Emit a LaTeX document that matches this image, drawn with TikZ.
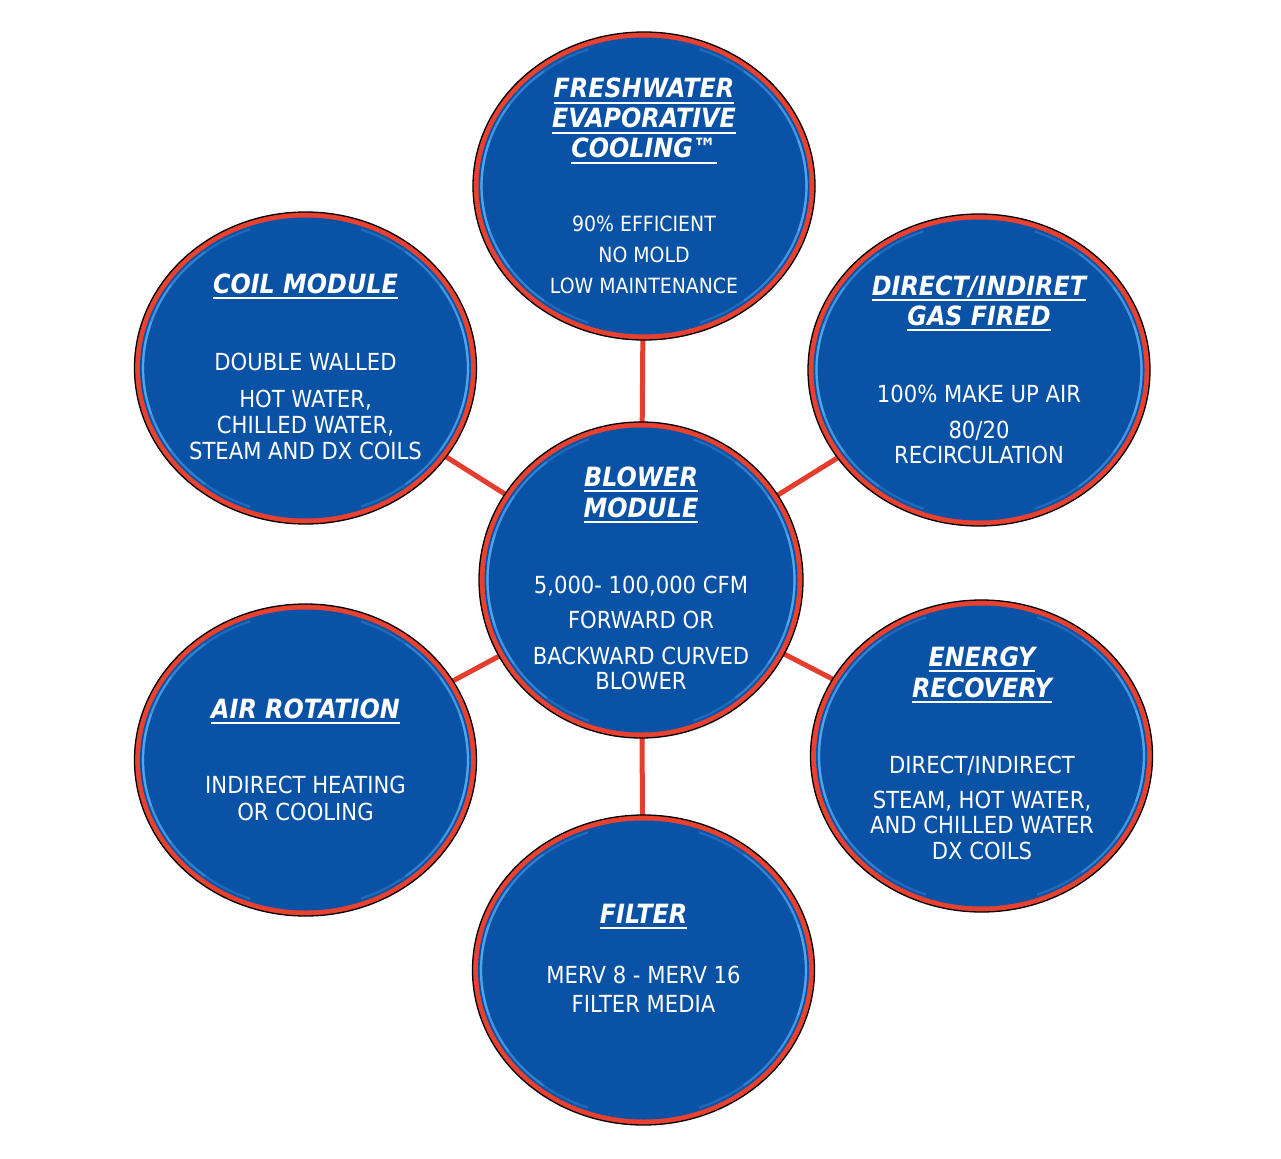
\documentclass[tikz,border=0pt]{standalone}
\usepackage{fontspec}
\newfontfamily\dvs{DejaVu Sans}[FakeStretch=0.9]
\usetikzlibrary{shapes.geometric}
\pgfdeclarelayer{bg}
\pgfsetlayers{bg,main}
\definecolor{bblue}{HTML}{0A52A5}
\definecolor{ringred}{HTML}{E8412F}
\definecolor{hlblue}{HTML}{5CB8FF}
\definecolor{linkred}{HTML}{E53D2E}
\newsavebox\ulbox
\newcommand\hul[1]{\sbox\ulbox{#1}\rlap{\vrule width\wd\ulbox height -3.8pt depth 5.8pt}\usebox\ulbox}
\tikzset{
  ring/.style={ellipse, draw=black, line width=1.3pt, fill=ringred, inner sep=0pt, outer sep=0pt},
  hl/.style={draw=hlblue, line width=2.2pt, line cap=butt},
  conn/.style={draw=linkred, line width=5pt},
  txt/.style={text=white, anchor=base, inner sep=0pt},
  hdr/.style={txt, font=\dvs\bfseries\itshape\fontsize{26.5}{30}\selectfont},
  body/.style={txt, font=\dvs\fontsize{23.5}{27}\selectfont},
  bodys/.style={txt, font=\dvs\fontsize{21}{25}\selectfont},
}
\newcommand\bubble[5]{%
  \node[ring, minimum width={2*#4}, minimum height={2*#5}] (#1) at (#2,#3) {};
  \pgfmathsetmacro\irx{#4-5.5}\pgfmathsetmacro\iry{#5-5.5}
  \fill[bblue] (#1.center) ellipse[x radius=\irx, y radius=\iry];
  \pgfmathsetmacro\hrx{#4-8.5}\pgfmathsetmacro\hry{#5-8.5}
  \foreach \s/\o in {70/0.25,52/0.3,34/0.38,18/0.45}{
    \draw[hl, draw opacity=\o, shift={(#2,#3)}] plot[domain={180-\s}:{180+\s}, samples=40, smooth] ({\hrx*cos(\x)},{\hry*sin(\x)});
    \draw[hl, draw opacity=\o, shift={(#2,#3)}] plot[domain={-\s}:{\s}, samples=40, smooth] ({\hrx*cos(\x)},{\hry*sin(\x)});
  }
}
\begin{document}
\begin{tikzpicture}[x=1pt,y=-1pt]
\useasboundingbox (0,0) rectangle (1281,1158);

\bubble{fresh}{644}{186}{171}{154}
\bubble{coil}{305.5}{368}{171}{156}
\bubble{gas}{979}{370}{171}{156}
\bubble{blower}{641}{580}{162}{158}
\bubble{air}{305.5}{760}{171}{156}
\bubble{energy}{981.5}{756}{171}{156}
\bubble{filter}{643.5}{970}{171}{155}

% Freshwater
\node[hdr] (freshH1) at (644,98) {\hul{FRESHWATER}};
\node[hdr] (freshH2) at (644,128) {\hul{EVAPORATIVE}};
\node[hdr] (freshH3) at (644,158) {\hul{COOLING™}};
\node[bodys] (freshB1) at (644,232) {90\% EFFICIENT};
\node[bodys] (freshB2) at (644,262) {NO MOLD};
\node[bodys] (freshB3) at (644,293) {LOW MAINTENANCE};

% Coil module
\node[hdr] (coilH1) at (305.5,293) {\hul{COIL MODULE}};
\node[body] (coilB1) at (305.5,370) {DOUBLE WALLED};
\node[body] (coilB2) at (305.5,407) {HOT WATER,};
\node[body] (coilB3) at (305.5,433) {CHILLED WATER,};
\node[body] (coilB4) at (305.5,459) {STEAM AND DX COILS};

% Gas fired
\node[hdr] (gasH1) at (979,295) {\hul{DIRECT/INDIRET}};
\node[hdr] (gasH2) at (979,325) {\hul{GAS FIRED}};
\node[body] (gasB1) at (979,402) {100\% MAKE UP AIR};
\node[body] (gasB2) at (979,438) {80/20};
\node[body] (gasB3) at (979,463) {RECIRCULATION};

% Blower
\node[hdr] (blowerH1) at (641,486) {\hul{BLOWER}};
\node[hdr] (blowerH2) at (641,517) {\hul{MODULE}};
\node[body] (blowerB1) at (641,593) {5,000- 100,000 CFM};
\node[body] (blowerB2) at (641,628) {FORWARD OR};
\node[body] (blowerB3) at (641,664) {BACKWARD CURVED};
\node[body] (blowerB4) at (641,689) {BLOWER};

% Air rotation
\node[hdr] (airH1) at (305.5,718) {\hul{AIR ROTATION}};
\node[body] (airB1) at (305.5,793) {INDIRECT HEATING};
\node[body] (airB2) at (305.5,820) {OR COOLING};

% Energy recovery
\node[hdr] (energyH1) at (982,666) {\hul{ENERGY}};
\node[hdr] (energyH2) at (982,697) {\hul{RECOVERY}};
\node[body] (energyB1) at (982,773) {DIRECT/INDIRECT};
\node[body] (energyB2) at (982,808) {STEAM, HOT WATER,};
\node[body] (energyB3) at (982,833) {AND CHILLED WATER};
\node[body] (energyB4) at (982,859) {DX COILS};

% Filter
\node[hdr] (filterH1) at (643.5,923) {\hul{FILTER}};
\node[body] (filterB1) at (643.5,983) {MERV 8 - MERV 16};
\node[body] (filterB2) at (643.5,1012) {FILTER MEDIA};

\begin{pgfonlayer}{bg}
  \fill[white] (0,0) rectangle (1281,1158);
  \draw[conn] (blower.center) -- (fresh.center);
  \draw[conn] (blower.center) -- (coil.center);
  \draw[conn] (blower.center) -- (gas.center);
  \draw[conn] (blower.center) -- (air.center);
  \draw[conn] (blower.center) -- (energy.center);
  \draw[conn] (blower.center) -- (filter.center);
\end{pgfonlayer}
\end{tikzpicture}
\end{document}
